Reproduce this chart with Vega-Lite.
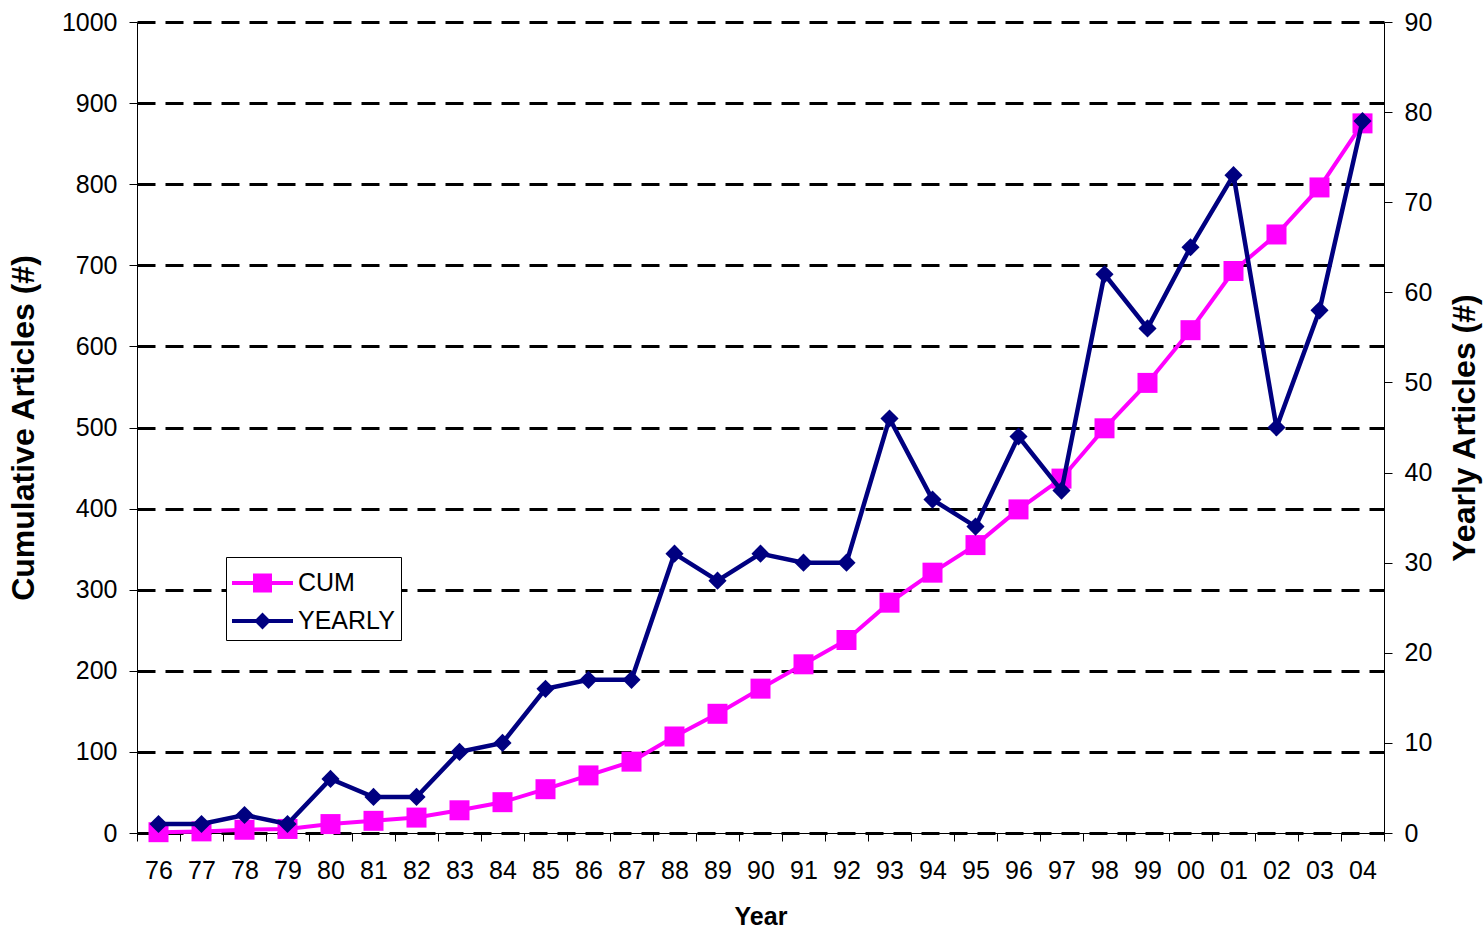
{
  "$schema": "https://vega.github.io/schema/vega-lite/v6.json",
  "width": 1247,
  "height": 811,
  "autosize": "none",
  "padding": {"left": 137, "top": 22, "right": 100, "bottom": 98},
  "background": "white",
  "config": {
    "view": {"stroke": null},
    "font": "Liberation Sans",
    "axis": {
      "labelFont": "Liberation Sans",
      "labelFontSize": 25,
      "labelColor": "black",
      "titleFont": "Liberation Sans",
      "titleFontSize": 25,
      "titleFontWeight": "bold",
      "titleColor": "black",
      "domainColor": "black",
      "domainWidth": 1,
      "tickColor": "black",
      "tickWidth": 1,
      "tickSize": 8
    }
  },
  "data": {
    "values": [
      {"year": "76", "cum": 1, "yearly": 1},
      {"year": "77", "cum": 2, "yearly": 1},
      {"year": "78", "cum": 4, "yearly": 2},
      {"year": "79", "cum": 5, "yearly": 1},
      {"year": "80", "cum": 11, "yearly": 6},
      {"year": "81", "cum": 15, "yearly": 4},
      {"year": "82", "cum": 19, "yearly": 4},
      {"year": "83", "cum": 28, "yearly": 9},
      {"year": "84", "cum": 38, "yearly": 10},
      {"year": "85", "cum": 54, "yearly": 16},
      {"year": "86", "cum": 71, "yearly": 17},
      {"year": "87", "cum": 88, "yearly": 17},
      {"year": "88", "cum": 119, "yearly": 31},
      {"year": "89", "cum": 147, "yearly": 28},
      {"year": "90", "cum": 178, "yearly": 31},
      {"year": "91", "cum": 208, "yearly": 30},
      {"year": "92", "cum": 238, "yearly": 30},
      {"year": "93", "cum": 284, "yearly": 46},
      {"year": "94", "cum": 321, "yearly": 37},
      {"year": "95", "cum": 355, "yearly": 34},
      {"year": "96", "cum": 399, "yearly": 44},
      {"year": "97", "cum": 437, "yearly": 38},
      {"year": "98", "cum": 499, "yearly": 62},
      {"year": "99", "cum": 555, "yearly": 56},
      {"year": "00", "cum": 620, "yearly": 65},
      {"year": "01", "cum": 693, "yearly": 73},
      {"year": "02", "cum": 738, "yearly": 45},
      {"year": "03", "cum": 796, "yearly": 58},
      {"year": "04", "cum": 875, "yearly": 79}
    ]
  },
  "encoding": {
    "x": {
      "field": "year",
      "type": "ordinal",
      "sort": null,
      "scale": {"type": "band", "paddingInner": 0, "paddingOuter": 0},
      "axis": {
        "title": "Year",
        "labelAngle": 0,
        "tickBand": "extent",
        "labelPadding": 17,
        "titlePadding": 21,
        "grid": false
      }
    }
  },
  "layer": [
    {
      "mark": {
        "type": "line",
        "strokeWidth": 4,
        "point": {"shape": "square", "size": 400, "filled": true, "opacity": 1}
      },
      "encoding": {
        "y": {
          "field": "cum",
          "type": "quantitative",
          "scale": {"domain": [0, 1000], "nice": false},
          "axis": {
            "title": "Cumulative Articles (#)",
            "titleFontSize": 32,
            "format": "d",
            "values": [0, 100, 200, 300, 400, 500, 600, 700, 800, 900, 1000],
            "grid": true,
            "gridColor": "black",
            "gridWidth": 3,
            "gridDash": [18, 10],
            "gridOpacity": 1,
            "labelPadding": 12,
            "titlePadding": 21
          }
        },
        "color": {
          "datum": "CUM",
          "type": "nominal",
          "scale": {"domain": ["CUM", "YEARLY"], "range": ["#FF00FF", "#000080"]},
          "legend": {
            "title": null,
            "orient": "none",
            "legendX": 89,
            "legendY": 535,
            "padding": 6,
            "rowPadding": 5,
            "strokeColor": "black",
            "fillColor": "white",
            "symbolSize": 1600,
            "symbolStrokeWidth": 0,
            "labelFont": "Liberation Sans",
            "labelFontSize": 25,
            "labelColor": "black",
            "labelOffset": 26,
            "labelBaseline": "middle",
            "encode": {
              "symbols": {
                "update": {
                  "shape": {"signal": "datum.value === 'CUM' ? 'M-1.0,-0.1H2.05V0.1H-1.0Z M0.05,-0.475H1.0V0.475H0.05Z' : 'M-1.0,-0.1H2.05V0.1H-1.0Z M0.525,-0.42L0.945,0L0.525,0.42L0.105,0Z'"},
                  "fill": {"signal": "datum.value === 'CUM' ? '#FF00FF' : '#000080'"},
                  "fillOpacity": {"value": 1},
                  "strokeWidth": {"value": 0},
                  "opacity": {"value": 1}
                }
              }
            }
          }
        }
      }
    },
    {
      "mark": {
        "type": "line",
        "strokeWidth": 4.5,
        "point": {"shape": "diamond", "size": 330, "filled": true, "opacity": 1}
      },
      "encoding": {
        "y": {
          "field": "yearly",
          "type": "quantitative",
          "scale": {"domain": [0, 90], "nice": false},
          "axis": {
            "orient": "right",
            "title": "Yearly Articles (#)",
            "titleFontSize": 32,
            "titleAngle": -90,
            "titleBaseline": "top",
            "values": [0, 10, 20, 30, 40, 50, 60, 70, 80, 90],
            "grid": false,
            "labelPadding": 12,
            "titlePadding": 18
          }
        },
        "color": {"datum": "YEARLY", "type": "nominal"}
      }
    }
  ],
  "resolve": {"scale": {"y": "independent"}}
}
